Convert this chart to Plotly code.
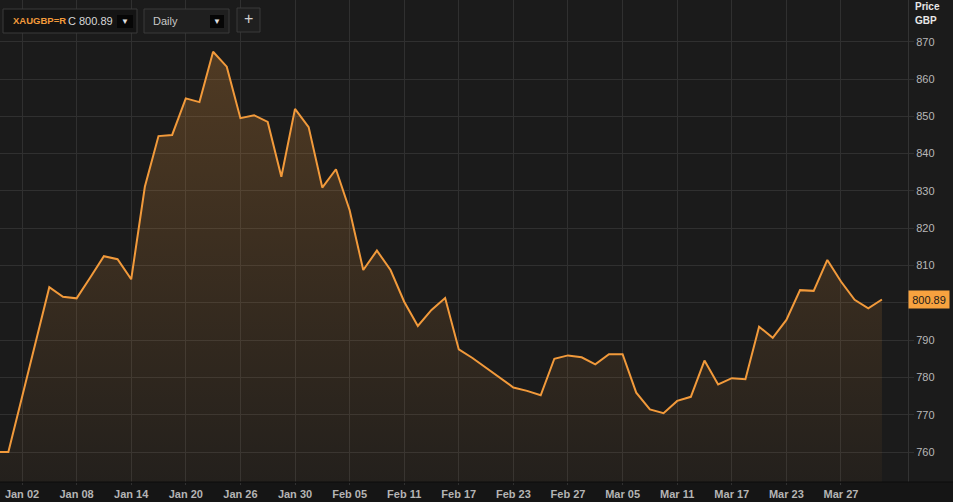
import plotly.graph_objects as go

# ---- data (trading-day index, price in GBP) ----
day_index = list(range(-2, 64))
prices = [760.0, 760.0, 774.7, 789.5, 804.2, 801.6, 801.2, 806.8, 812.5, 811.7,
          806.3, 831.1, 844.7, 845.0, 854.8, 853.8, 867.3, 863.3, 849.5, 850.3,
          848.5, 833.8, 852.0, 847.1, 830.9, 835.8, 824.9, 808.8, 814.0, 808.8,
          800.3, 793.8, 798.1, 801.3, 787.5, 785.2, 782.6, 780.0, 777.3, 776.4,
          775.2, 785.0, 785.9, 785.4, 783.5, 786.2, 786.2, 775.9, 771.4, 770.4,
          773.7, 774.8, 784.5, 778.1, 779.8, 779.5, 793.6, 790.6, 795.4, 803.4,
          803.2, 811.5, 805.7, 800.8, 798.5, 800.89]
tick_index = [0, 4, 8, 12, 16, 20, 24, 28, 32, 36, 40, 44, 48, 52, 56, 60]
tick_labels = ["Jan 02", "Jan 08", "Jan 14", "Jan 20", "Jan 26", "Jan 30",
               "Feb 05", "Feb 11", "Feb 17", "Feb 23", "Feb 27", "Mar 05",
               "Mar 11", "Mar 17", "Mar 23", "Mar 27"]
price_ticks = [760, 770, 780, 790, 800, 810, 820, 830, 840, 850, 860, 870]
ric = "XAUGBP=R"
interval = "Daily"

# tick label hidden behind the last-price box (as in the reference)
price_labels = ["" if abs(v - prices[-1]) < 4 else str(v) for v in price_ticks]

W, H = 953, 502
def px(x):
    return x / W
def py(y):
    return 1 - y / H

BG = "#1b1b1b"
GRID = "#303030"
ORANGE = "#f29a3b"
FONT = "Liberation Sans, Arial, sans-serif"

fig = go.Figure()
fig.add_trace(go.Scatter(
    x=day_index, y=prices, mode="lines",
    line=dict(color=ORANGE, width=2),
    fill="tozeroy",
    fillgradient=dict(type="vertical", start=752, stop=870,
                      colorscale=[[0, "rgba(242,154,59,0.04)"],
                                  [1, "rgba(242,154,59,0.25)"]]),
    hoverinfo="skip", showlegend=False,
))

shapes = [
    # darker strip below plot
    dict(type="rect", xref="paper", yref="paper", x0=0, x1=1, y0=0, y1=py(482),
         fillcolor="#151515", line=dict(width=0), layer="below"),
    dict(type="line", xref="paper", yref="paper", x0=0, x1=1, y0=py(482), y1=py(482),
         line=dict(color="#0d0d0d", width=1), layer="above"),
    # toolbar boxes
    dict(type="rect", xref="paper", yref="paper", x0=px(3), x1=px(137), y0=py(33), y1=py(9),
         fillcolor="#141414", line=dict(color="#3a3a3a", width=1), layer="above"),
    dict(type="rect", xref="paper", yref="paper", x0=px(117), x1=px(133), y0=py(28), y1=py(15),
         fillcolor="#060606", line=dict(width=0), layer="above"),
    dict(type="rect", xref="paper", yref="paper", x0=px(144), x1=px(229), y0=py(33), y1=py(9),
         fillcolor="#1f1f1f", line=dict(color="#3a3a3a", width=1), layer="above"),
    dict(type="rect", xref="paper", yref="paper", x0=px(210), x1=px(224), y0=py(28), y1=py(15),
         fillcolor="#060606", line=dict(width=0), layer="above"),
    dict(type="rect", xref="paper", yref="paper", x0=px(237), x1=px(260), y0=py(32), y1=py(8),
         fillcolor="#1f1f1f", line=dict(color="#3a3a3a", width=1), layer="above"),
]

annotations = [
    dict(xref="paper", yref="paper", x=px(11), y=py(21), xanchor="left", yanchor="middle",
         text=f"<b>{ric}</b>", showarrow=False, font=dict(color="#f29a3b", size=9.5, family=FONT)),
    dict(xref="paper", yref="paper", x=px(66), y=py(21), xanchor="left", yanchor="middle",
         text=f"C {prices[-1]:.2f}", showarrow=False, font=dict(color="#d8d8d8", size=11, family=FONT)),
    dict(xref="paper", yref="paper", x=px(125), y=py(21.5), xanchor="center", yanchor="middle",
         text="▼", showarrow=False, font=dict(color="#e0e0e0", size=8, family=FONT)),
    dict(xref="paper", yref="paper", x=px(151), y=py(21), xanchor="left", yanchor="middle",
         text=interval, showarrow=False, font=dict(color="#c8c8c8", size=11, family=FONT)),
    dict(xref="paper", yref="paper", x=px(217), y=py(21.5), xanchor="center", yanchor="middle",
         text="▼", showarrow=False, font=dict(color="#e0e0e0", size=8, family=FONT)),
    dict(xref="paper", yref="paper", x=px(248.5), y=py(19), xanchor="center", yanchor="middle",
         text="+", showarrow=False, font=dict(color="#d0d0d0", size=16, family=FONT)),
    dict(xref="paper", yref="paper", x=px(913), y=py(7), xanchor="left", yanchor="middle",
         text="<b>Price</b>", showarrow=False, font=dict(color="#e8e8e8", size=10, family=FONT)),
    dict(xref="paper", yref="paper", x=px(913), y=py(21), xanchor="left", yanchor="middle",
         text="<b>GBP</b>", showarrow=False, font=dict(color="#e8e8e8", size=10, family=FONT)),
    dict(xref="paper", yref="y", x=px(908), y=prices[-1], xanchor="left", yanchor="middle",
         text=f"{prices[-1]:.2f}", showarrow=False, bgcolor="#f7a23f", width=36, height=13,
         borderpad=2, font=dict(color="#1a1a1a", size=11, family=FONT)),
]

fig.update_layout(
    width=W, height=H,
    margin=dict(l=0, r=0, t=0, b=0, pad=0),
    paper_bgcolor=BG, plot_bgcolor=BG,
    shapes=shapes, annotations=annotations,
    xaxis=dict(
        domain=[0, px(908)], range=[-1.612, 64.91],
        tickmode="array", tickvals=tick_index, ticktext=tick_labels,
        showgrid=True, gridcolor=GRID, gridwidth=1, zeroline=False,
        ticks="outside", ticklen=2, tickcolor=GRID,
        tickfont=dict(color="#b4b4b4", size=11, family=FONT, weight="bold"),
        showline=False, fixedrange=True, automargin=False,
    ),
    yaxis=dict(
        domain=[1 - 482 / H, 1], range=[751.96, 881.18],
        side="right", tickmode="array", tickvals=price_ticks, ticktext=price_labels,
        showgrid=True, gridcolor=GRID, gridwidth=1, zeroline=False,
        ticks="outside", ticklen=5, tickcolor=GRID,
        tickfont=dict(color="#b8b8b8", size=11, family=FONT),
        showline=True, linecolor="#333333", linewidth=1, mirror=False,
        fixedrange=True, automargin=False,
    ),
    showlegend=False,
)

fig.write_html(
    "out.html",
    config={"displayModeBar": False},
    post_script="document.body.style.margin='0';document.body.style.overflow='hidden';",
)
